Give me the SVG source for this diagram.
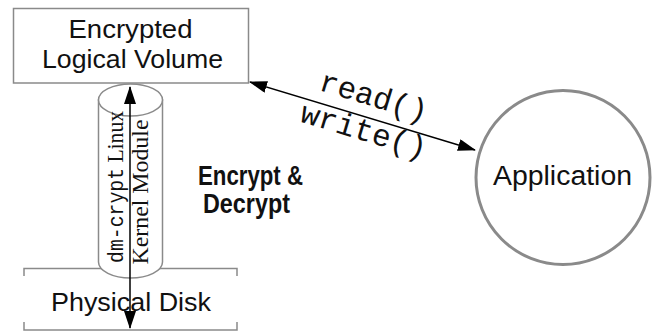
<svg xmlns="http://www.w3.org/2000/svg" width="654" height="333" viewBox="0 0 654 333">
<style>
.box{fill:#fff;stroke:#8a8a8a;stroke-width:1.5}
.sans{font-family:"Liberation Sans",Arial,sans-serif;fill:#111;text-anchor:middle}
.serif{font-family:"Liberation Serif","Times New Roman",serif;fill:#111;font-size:24px}
.mono{font-family:"Liberation Mono","Courier New",monospace;fill:#111}
.conn{stroke:#000;stroke-width:1.5;fill:none}
</style>
<defs>
<marker id="ah" viewBox="0 0 18 12" refX="17" refY="6" markerWidth="18" markerHeight="12" markerUnits="userSpaceOnUse" orient="auto-start-reverse">
<path d="M0,0 L18,6 L0,12 Z" fill="#000"/>
</marker>
</defs>
<g id="physical-disk">
<path class="box" style="fill:none" d="M24,276 V268.5 H237 V276 M24,322 V330 H237 V322"/>
<text class="sans" x="131" y="311" font-size="26" textLength="160" lengthAdjust="spacingAndGlyphs">Physical Disk</text>
</g>
<g id="kernel-module">
<path class="box" d="M98.5,100 V262 A32,16 0 0 0 162.5,262 V100 Z"/>
<ellipse class="box" cx="130.5" cy="100" rx="32" ry="16"/>
<text class="serif" transform="translate(123,187) rotate(-90)" text-anchor="middle" textLength="152" lengthAdjust="spacingAndGlyphs"><tspan class="mono" font-size="22">dm-crypt</tspan> Linux</text>
<text class="serif" transform="translate(148,192) rotate(-90)" text-anchor="middle" textLength="145" lengthAdjust="spacingAndGlyphs">Kernel Module</text>
</g>
<g id="logical-volume">
<rect class="box" x="13.5" y="8.5" width="235" height="74.5"/>
<text class="sans" x="130.5" y="38" font-size="26" textLength="124" lengthAdjust="spacingAndGlyphs">Encrypted</text>
<text class="sans" x="132.5" y="68" font-size="26" textLength="181" lengthAdjust="spacingAndGlyphs">Logical Volume</text>
</g>
<g id="application">
<circle cx="563" cy="177.5" r="87" fill="#fff" stroke="#8a8a8a" stroke-width="3"/>
<text class="sans" x="562.5" y="185" font-size="27" textLength="139" lengthAdjust="spacingAndGlyphs">Application</text>
</g>
<g id="label-encrypt">
<text class="sans" x="250.5" y="185" font-size="28" font-weight="bold" textLength="105" lengthAdjust="spacingAndGlyphs">Encrypt &amp;</text>
<text class="sans" x="246.5" y="213" font-size="28" font-weight="bold" textLength="87" lengthAdjust="spacingAndGlyphs">Decrypt</text>
</g>
<g id="connectors">
<line class="conn" x1="130" y1="87" x2="130" y2="328" marker-start="url(#ah)" marker-end="url(#ah)"/>
<line class="conn" x1="250" y1="82" x2="475" y2="150" marker-start="url(#ah)" marker-end="url(#ah)"/>
<text class="mono" font-size="31" text-anchor="middle" transform="translate(371,106) rotate(16.8)">read()</text>
<text class="mono" font-size="31" text-anchor="middle" transform="translate(361,140) rotate(16.8)">write()</text>
</g>
</svg>
